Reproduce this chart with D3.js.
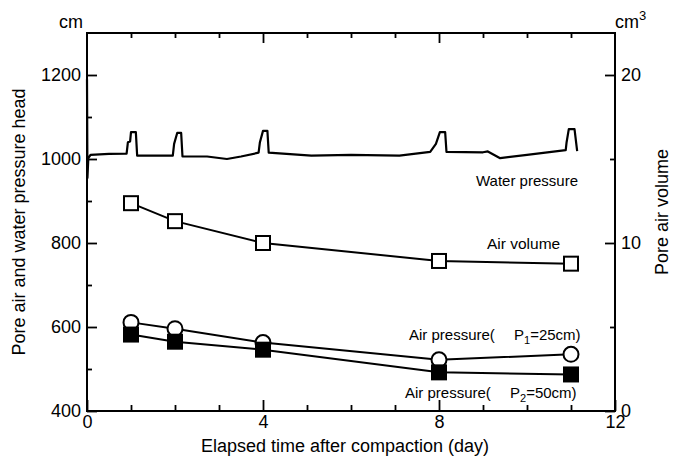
<!DOCTYPE html>
<html>
<head>
<meta charset="utf-8">
<script src="https://cdn.jsdelivr.net/npm/d3@7"></script>
<style>
  body { margin: 0; background: #fff; }
  svg { font-family: "Liberation Sans", Arial, sans-serif; }
</style>
</head>
<body>
<div id="chart"></div>
<script>
var width = 675,
    height = 457

// measured points (day of measurement)
var days = [1, 2, 4, 8, 11]
var airVolume = [12.37, 11.3, 10.0, 8.93, 8.77]      // cm3, right axis
var airP1 = [611, 596, 563, 522, 535]                // cm, P1 = 25cm
var airP2 = [582, 565, 546, 492, 487]                // cm, P2 = 50cm

// continuous water pressure record
var waterDay = [0, 0.01, 0.03, 0.08, 0.5, 0.9, 0.93, 0.98, 1.0, 1.11, 1.14,
  1.5, 1.95, 1.98, 2.05, 2.14, 2.17, 2.73, 3.18, 3.5, 3.9, 3.93, 4.0, 4.1, 4.13,
  5.1, 6.0, 7.1, 7.8, 7.93, 8.02, 8.14, 8.17, 9.0, 9.11, 9.39, 10.0, 10.88,
  10.9, 10.95, 11.08, 11.14]
var waterHead = [1190, 955, 1002, 1010, 1012, 1013, 1040, 1042, 1064, 1064, 1008,
  1008, 1008, 1036, 1062, 1062, 1006, 1006, 1000, 1006, 1015, 1040, 1067, 1067, 1015,
  1008, 1010, 1008, 1017, 1036, 1064, 1064, 1017, 1016, 1018, 1002, 1010, 1021,
  1040, 1071, 1071, 1019]

var xMajor = [0, 4, 8, 12]
var xMinor = [1, 2, 3, 5, 6, 7, 9, 10, 11]
var yLeftMajor = [400, 600, 800, 1000, 1200]
var yLeftMinor = [500, 700, 900, 1100]
var yRightMajor = [0, 10, 20]
var yRightMinor = [5, 15]

var plotL = 87, plotR = 615, plotT = 33, plotB = 411

var x = d3.scaleLinear().domain([0, 12]).range([plotL, plotR])
var yL = d3.scaleLinear().domain([400, 1300]).range([plotB, plotT])
var yR = d3.scaleLinear().domain([0, 22.5]).range([plotB, plotT])

var svg = d3.select("#chart")
  .append("svg")
    .attr("width", width)
    .attr("height", height)

function styleAxis(g) {
  g.select(".domain").remove()
  g.selectAll("line").attr("stroke", "#000").attr("stroke-width", 1.8)
  g.selectAll("text").attr("fill", "#000").style("font-size", "18px")
}

// bottom
svg.append("g").attr("transform", "translate(0," + plotB + ")")
  .call(d3.axisBottom(x).tickValues(xMajor).tickSize(-11).tickPadding(4).tickFormat(d3.format("d")))
  .call(styleAxis)
svg.append("g").attr("transform", "translate(0," + plotB + ")")
  .call(d3.axisBottom(x).tickValues(xMinor).tickSize(-6).tickFormat(""))
  .call(styleAxis)
// top
svg.append("g").attr("transform", "translate(0," + plotT + ")")
  .call(d3.axisTop(x).tickValues([4, 8]).tickSize(-10).tickFormat(""))
  .call(styleAxis)
svg.append("g").attr("transform", "translate(0," + plotT + ")")
  .call(d3.axisTop(x).tickValues(xMinor).tickSize(-5).tickFormat(""))
  .call(styleAxis)
// left
svg.append("g").attr("transform", "translate(" + plotL + ",0)")
  .call(d3.axisLeft(yL).tickValues(yLeftMajor).tickSize(-10).tickPadding(6).tickFormat(d3.format("d")))
  .call(styleAxis)
svg.append("g").attr("transform", "translate(" + plotL + ",0)")
  .call(d3.axisLeft(yL).tickValues(yLeftMinor).tickSize(-5).tickFormat(""))
  .call(styleAxis)
// right
svg.append("g").attr("transform", "translate(" + plotR + ",0)")
  .call(d3.axisRight(yR).tickValues(yRightMajor).tickSize(-10).tickPadding(6).tickFormat(d3.format("d")))
  .call(styleAxis)
svg.append("g").attr("transform", "translate(" + plotR + ",0)")
  .call(d3.axisRight(yR).tickValues(yRightMinor).tickSize(-5).tickFormat(""))
  .call(styleAxis)

// frame
svg.append("rect")
  .attr("x", plotL).attr("y", plotT)
  .attr("width", plotR - plotL).attr("height", plotB - plotT)
  .attr("fill", "none").attr("stroke", "#000").attr("stroke-width", 2)

// units
svg.append("text").attr("x", 83).attr("y", 28).attr("text-anchor", "end")
  .style("font-size", "18px").text("cm")
var u = svg.append("text").attr("x", 615).attr("y", 28).style("font-size", "18px")
u.append("tspan").text("cm")
u.append("tspan").attr("dy", -8).style("font-size", "13px").text("3")

// axis titles
svg.append("text")
  .attr("x", 345).attr("y", 452)
  .attr("text-anchor", "middle")
  .style("font-size", "18px")
  .text("Elapsed time after compaction (day)")
svg.append("text")
  .attr("transform", "translate(25,222) rotate(-90)")
  .attr("text-anchor", "middle")
  .style("font-size", "18px")
  .text("Pore air and water pressure head")
svg.append("text")
  .attr("transform", "translate(668,212) rotate(-90)")
  .attr("text-anchor", "middle")
  .style("font-size", "18px")
  .text("Pore air volume")

// water pressure
var lineL = d3.line().x(function(d) { return x(d[0]) }).y(function(d) { return yL(d[1]) })
var lineR = d3.line().x(function(d) { return x(d[0]) }).y(function(d) { return yR(d[1]) })

var water = waterDay.map(function(d, i) { return [d, waterHead[i]] })
svg.append("path")
  .datum(water)
  .attr("d", lineL)
  .attr("fill", "none").attr("stroke", "#000").attr("stroke-width", 2.2)
  .attr("stroke-linejoin", "round")

var vol = days.map(function(d, i) { return [d, airVolume[i]] })
var p1 = days.map(function(d, i) { return [d, airP1[i]] })
var p2 = days.map(function(d, i) { return [d, airP2[i]] })

svg.append("path").datum(vol).attr("d", lineR)
  .attr("fill", "none").attr("stroke", "#000").attr("stroke-width", 2)
svg.append("path").datum(p1).attr("d", lineL)
  .attr("fill", "none").attr("stroke", "#000").attr("stroke-width", 2)
svg.append("path").datum(p2).attr("d", lineL)
  .attr("fill", "none").attr("stroke", "#000").attr("stroke-width", 2)

var s = 14
svg.selectAll("volsq")
  .data(vol)
  .enter()
  .append("rect")
    .attr("x", function(d) { return x(d[0]) - s / 2 })
    .attr("y", function(d) { return yR(d[1]) - s / 2 })
    .attr("width", s).attr("height", s)
    .attr("fill", "#fff").attr("stroke", "#000").attr("stroke-width", 2)

svg.selectAll("p1dot")
  .data(p1)
  .enter()
  .append("circle")
    .attr("cx", function(d) { return x(d[0]) })
    .attr("cy", function(d) { return yL(d[1]) })
    .attr("r", 7.5)
    .attr("fill", "#fff").attr("stroke", "#000").attr("stroke-width", 2)

svg.selectAll("p2sq")
  .data(p2)
  .enter()
  .append("rect")
    .attr("x", function(d) { return x(d[0]) - s / 2 })
    .attr("y", function(d) { return yL(d[1]) - s / 2 })
    .attr("width", s).attr("height", s)
    .attr("fill", "#000").attr("stroke", "#000").attr("stroke-width", 2)

// series labels
svg.append("text").attr("x", 476).attr("y", 186).style("font-size", "15px").text("Water pressure")
svg.append("text").attr("x", 487).attr("y", 249).style("font-size", "15.5px").text("Air volume")

function pLabel(xp, yp, sub, val) {
  var t = svg.append("text").attr("x", xp).attr("y", yp).style("font-size", "15px")
  t.append("tspan").text("Air pressure(")
  t.append("tspan").attr("x", xp + 105).text("P")
  t.append("tspan").attr("dy", 4).style("font-size", "11px").text(sub)
  t.append("tspan").attr("dy", -4).text(val)
}
pLabel(409, 340, "1", "=25cm)")
pLabel(405, 398, "2", "=50cm)")
</script>
</body>
</html>
